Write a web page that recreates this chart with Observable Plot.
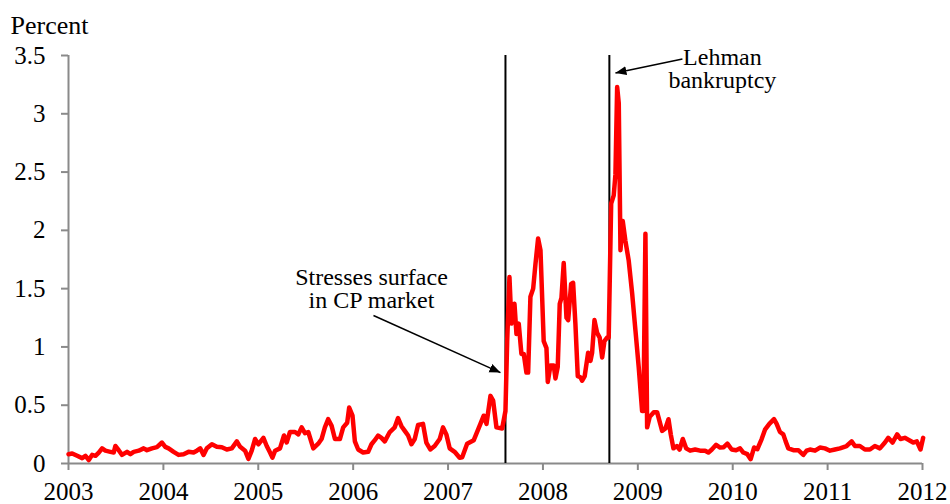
<!DOCTYPE html>
<html>
<head>
<meta charset="utf-8">
<script src="https://cdn.jsdelivr.net/npm/d3@7"></script>
<script src="https://cdn.jsdelivr.net/npm/@observablehq/plot@0.6"></script>
<style>
  html, body { margin: 0; padding: 0; background: #fff; }
  #chart svg, #chart svg text, #chart svg tspan, #chart svg g {
    font-family: "Liberation Serif", "Times New Roman", "DejaVu Serif", serif !important;
  }
</style>
</head>
<body>
<div id="chart"></div>
<script>
// Decimal-year dates and spread values (percent)
const years = [
  2003.000,2003.039,2003.091,2003.144,2003.179,2003.214,2003.249,2003.284,2003.319,2003.354,
  2003.389,2003.442,2003.477,2003.494,2003.529,2003.564,2003.617,2003.652,2003.687,2003.740,
  2003.792,2003.827,2003.880,2003.932,2003.985,2004.020,2004.055,2004.108,2004.160,2004.213,
  2004.265,2004.318,2004.353,2004.388,2004.423,2004.458,2004.511,2004.563,2004.616,2004.668,
  2004.721,2004.774,2004.809,2004.861,2004.896,2004.931,2004.966,2005.001,2005.054,2005.089,
  2005.124,2005.149,2005.177,2005.229,2005.271,2005.299,2005.334,2005.387,2005.422,2005.457,
  2005.492,2005.527,2005.580,2005.632,2005.667,2005.702,2005.737,2005.773,2005.808,2005.860,
  2005.895,2005.937,2005.958,2005.993,2006.018,2006.053,2006.105,2006.158,2006.193,2006.228,
  2006.263,2006.298,2006.333,2006.386,2006.438,2006.473,2006.509,2006.544,2006.579,2006.614,
  2006.649,2006.684,2006.736,2006.771,2006.813,2006.859,2006.912,2006.947,2006.982,2007.017,
  2007.069,2007.122,2007.149,2007.201,2007.271,2007.341,2007.376,2007.405,2007.447,2007.475,
  2007.510,2007.570,2007.605,2007.623,2007.647,2007.668,2007.700,2007.721,2007.745,2007.773,
  2007.798,2007.826,2007.844,2007.868,2007.897,2007.921,2007.949,2007.974,2008.008,2008.037,
  2008.051,2008.079,2008.114,2008.132,2008.156,2008.177,2008.195,2008.219,2008.248,2008.266,
  2008.297,2008.318,2008.342,2008.367,2008.395,2008.413,2008.440,2008.476,2008.501,2008.518,
  2008.543,2008.571,2008.598,2008.624,2008.648,2008.676,2008.693,2008.719,2008.746,2008.764,
  2008.782,2008.799,2008.817,2008.841,2008.869,2008.904,2008.940,2008.975,2009.009,2009.045,
  2009.059,2009.080,2009.098,2009.125,2009.168,2009.203,2009.256,2009.291,2009.323,2009.347,
  2009.375,2009.411,2009.440,2009.474,2009.509,2009.551,2009.604,2009.656,2009.709,2009.744,
  2009.780,2009.825,2009.867,2009.905,2009.944,2009.989,2010.035,2010.077,2010.112,2010.154,
  2010.189,2010.225,2010.260,2010.305,2010.340,2010.386,2010.435,2010.463,2010.498,2010.533,
  2010.558,2010.586,2010.639,2010.691,2010.744,2010.779,2010.814,2010.867,2010.919,2010.972,
  2011.025,2011.077,2011.130,2011.200,2011.253,2011.288,2011.340,2011.393,2011.446,2011.498,
  2011.551,2011.604,2011.639,2011.684,2011.733,2011.768,2011.814,2011.860,2011.902,2011.940,
  2011.979,2012.007
];
const spread = [
  0.08,0.086,0.066,0.046,0.066,0.03,0.074,0.066,0.094,0.13,
  0.11,0.10,0.094,0.15,0.114,0.074,0.10,0.08,0.10,0.11,
  0.13,0.114,0.13,0.14,0.18,0.143,0.13,0.10,0.074,0.08,
  0.10,0.094,0.11,0.13,0.074,0.13,0.165,0.143,0.14,0.12,
  0.13,0.19,0.143,0.11,0.04,0.11,0.21,0.165,0.22,0.15,
  0.094,0.05,0.11,0.13,0.24,0.18,0.27,0.27,0.25,0.31,
  0.26,0.27,0.13,0.17,0.21,0.31,0.38,0.323,0.21,0.21,
  0.31,0.35,0.48,0.41,0.19,0.12,0.094,0.10,0.165,0.20,
  0.24,0.22,0.19,0.27,0.31,0.39,0.32,0.28,0.24,0.165,
  0.21,0.33,0.34,0.18,0.12,0.15,0.21,0.31,0.25,0.13,
  0.10,0.05,0.054,0.17,0.20,0.34,0.41,0.34,0.58,0.54,
  0.31,0.30,0.45,1.05,1.60,1.20,1.37,1.11,1.20,0.94,
  0.94,0.78,0.78,1.43,1.50,1.71,1.93,1.83,1.05,0.99,
  0.70,0.84,0.84,0.73,0.83,1.37,1.42,1.72,1.25,1.23,
  1.54,1.55,1.20,0.75,0.74,0.71,0.75,0.95,0.88,0.95,
  1.23,1.12,1.08,0.91,1.05,1.08,1.08,2.23,2.30,2.48,
  3.23,3.09,1.83,2.08,1.91,1.74,1.46,1.14,0.83,0.45,
  0.45,1.97,0.31,0.40,0.44,0.44,0.28,0.30,0.38,0.25,
  0.13,0.15,0.12,0.21,0.13,0.11,0.12,0.11,0.11,0.094,
  0.12,0.16,0.137,0.14,0.17,0.12,0.114,0.13,0.094,0.08,
  0.037,0.137,0.123,0.21,0.29,0.34,0.38,0.34,0.27,0.25,
  0.19,0.13,0.114,0.114,0.074,0.11,0.12,0.11,0.137,0.13,
  0.11,0.12,0.13,0.15,0.19,0.15,0.15,0.12,0.12,0.15,
  0.13,0.18,0.22,0.18,0.25,0.21,0.22,0.20,0.18,0.19,
  0.12,0.22
];
const xTicks = [2003, 2004, 2005, 2006, 2007, 2008, 2009, 2010, 2011, 2012];
const yTicks = [0, 0.5, 1, 1.5, 2, 2.5, 3, 3.5];
const eventYears = [2007.605, 2008.70];
const noteText = ["Stresses surface\nin CP market", "Lehman\nbankruptcy"];
const noteX = [2006.193, 2009.891];
const noteY = [1.338, 3.225];
const arrowFromX = [2006.214, 2009.470];
const arrowFromY = [1.27, 3.47];
const arrowToX = [2007.552, 2008.764];
const arrowToY = [0.78, 3.35];

const series = years.map((t, i) => ({t, v: spread[i]}));
const notes = noteText.map((text, i) => ({text, x: noteX[i], y: noteY[i]}));
const arrows = arrowFromX.map((x1, i) => ({x1, y1: arrowFromY[i], x2: arrowToX[i], y2: arrowToY[i]}));

const gray = "#8a8a8a";
const serif = "'Liberation Serif', 'Times New Roman', 'DejaVu Serif', serif";
const chart = Plot.plot({
  width: 950,
  height: 504,
  marginLeft: 68,
  marginRight: 28,
  marginTop: 55,
  marginBottom: 41,
  x: {domain: [2003, 2012]},
  y: {domain: [0, 3.5]},
  style: {fontFamily: serif, fontSize: "25px", color: "black", background: "white"},
  marks: [
    Plot.axisY({ticks: yTicks, tickSize: 7, tickPadding: 16, tickFormat: d => String(d), stroke: gray, strokeWidth: 2, fill: "black", fontSize: 25, label: null}),
    Plot.axisX({ticks: xTicks, tickSize: 7, tickPadding: 12, tickFormat: d => String(d), stroke: gray, strokeWidth: 2, fill: "black", fontSize: 25, label: null}),
    Plot.ruleX([2003], {stroke: gray, strokeWidth: 2}),
    Plot.ruleY([0], {stroke: gray, strokeWidth: 2}),
    Plot.ruleX(eventYears, {y1: 0, y2: 3.5, stroke: "black", strokeWidth: 2}),
    Plot.line(series, {x: "t", y: "v", stroke: "#ff0000", strokeWidth: 4.5, strokeLinejoin: "round", strokeLinecap: "round"}),
    Plot.link(arrows, {x1: "x1", y1: "y1", x2: "x2", y2: "y2", stroke: "black", strokeWidth: 1.5, markerEnd: "arrow"}),
    Plot.text(notes, {x: "x", y: "y", text: "text", textAnchor: "middle", lineAnchor: "bottom", lineHeight: 0.94, fontSize: 24, fill: "black"}),
    Plot.text(["Percent"], {frameAnchor: "top-left", dx: -58, dy: -22, textAnchor: "start", lineAnchor: "bottom", fontSize: 26, fill: "black"})
  ]
});

// Filled triangular arrowheads
d3.select(chart).selectAll("marker").each(function() {
  const m = d3.select(this);
  m.attr("viewBox", "-11 -5 12 10")
   .attr("markerUnits", "userSpaceOnUse")
   .attr("markerWidth", 12)
   .attr("markerHeight", 10)
   .attr("refX", 0).attr("refY", 0)
   .attr("fill", "black").attr("stroke", "none");
  m.selectAll("path").attr("d", "M-11,-4.5L0,0L-11,4.5Z");
});

document.getElementById("chart").appendChild(chart);
</script>
</body>
</html>
